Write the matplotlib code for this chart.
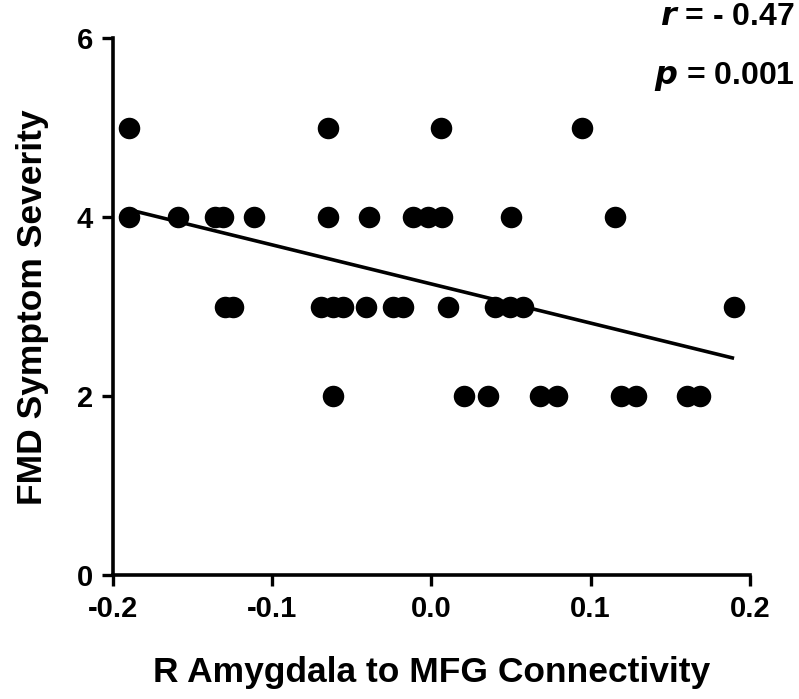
import numpy as np
import matplotlib
matplotlib.use('Agg')
import matplotlib.pyplot as plt

# connectivity values (x) grouped by symptom severity score (y)
conn_5 = [-0.1896, -0.0647, 0.0061, 0.0946]
conn_4 = [-0.1896, -0.1592, -0.1358, -0.1310, -0.1111, -0.0647, -0.0389,
          -0.0113, -0.0019, 0.0065, 0.0502, 0.1155]
conn_3 = [-0.1295, -0.1243, -0.0692, -0.0615, -0.0556, -0.0412, -0.0242,
          -0.0176, 0.0103, 0.0400, 0.0494, 0.0578, 0.1900]
conn_2 = [-0.0619, 0.0205, 0.0358, 0.0682, 0.0787, 0.1191, 0.1285,
          0.1603, 0.1687]

x = np.array(conn_5 + conn_4 + conn_3 + conn_2)
y = np.array([5] * len(conn_5) + [4] * len(conn_4) + [3] * len(conn_3) + [2] * len(conn_2))

# linear fit
slope, intercept = np.polyfit(x, y, 1)
xfit = np.array([x.min(), x.max()])
yfit = slope * xfit + intercept

plt.rcParams['font.family'] = ['Liberation Sans', 'DejaVu Sans']
plt.rcParams['font.weight'] = 'bold'

fig = plt.figure(figsize=(7.99, 6.99), dpi=100)
ax = fig.add_axes([0.141, 0.1767, 0.7977, 0.7683])

ax.scatter(x, y, s=240, color='black', zorder=3, linewidths=0)
ax.plot(xfit, yfit, color='black', lw=2.6, solid_capstyle='butt')

ax.set_xlim(-0.2, 0.2)
ax.set_ylim(0, 6)
ax.set_xticks([-0.2, -0.1, 0.0, 0.1, 0.2])
ax.set_xticklabels(['-0.2', '-0.1', '0.0', '0.1', '0.2'])
ax.set_yticks([0, 2, 4, 6])

for s in ['top', 'right']:
    ax.spines[s].set_visible(False)
for s in ['left', 'bottom']:
    ax.spines[s].set_linewidth(2.6)
ax.tick_params(width=2.4, length=8, labelsize=21, pad=6)
for lab in ax.get_xticklabels() + ax.get_yticklabels():
    lab.set_fontweight('bold')

ax.set_xlabel('R Amygdala to MFG Connectivity', fontsize=25.5, fontweight='bold', labelpad=24)
ax.set_ylabel('FMD Symptom Severity', fontsize=25.5, fontweight='bold', labelpad=20)

fig.text(0.995, 0.975, r'$\mathbfit{r}$ = - 0.47', ha='right', va='center',
         fontsize=23, fontweight='bold')
fig.text(0.995, 0.89, r'$\mathbfit{p}$ = 0.001', ha='right', va='center',
         fontsize=23, fontweight='bold')

fig.savefig('out.png', dpi=100)
